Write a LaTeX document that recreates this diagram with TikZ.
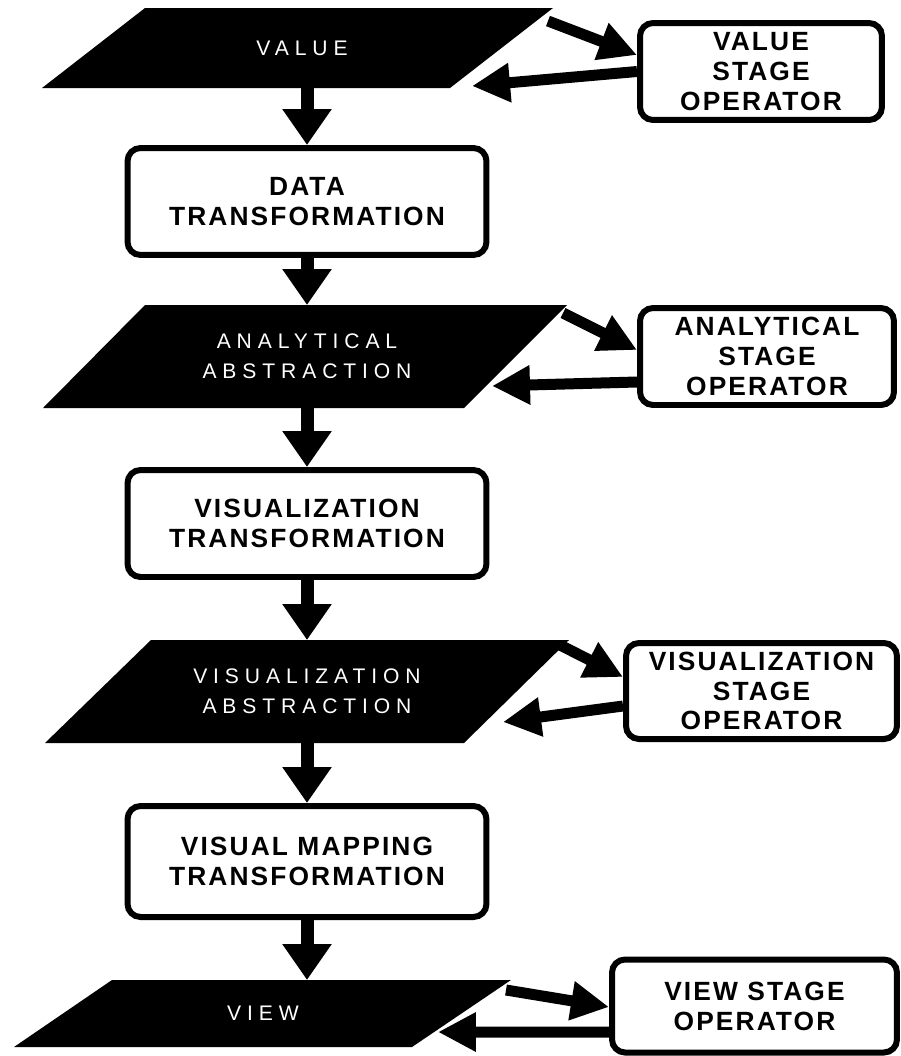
\documentclass[tikz,border=0pt]{standalone}
\usepackage{fontspec}
\usetikzlibrary{arrows.meta}
\setmainfont{Liberation Sans}
\newfontfamily\boxfont{Liberation Sans}[LetterSpace=8]
\newfontfamily\abfont{Liberation Sans}[LetterSpace=28]

\tikzset{
  stagebox/.style={draw, line width=0.12cm, rounded corners=0.26cm, fill=white,
    inner sep=0pt, align=center, font=\boxfont\bfseries\fontsize{15}{17}\selectfont},
  abstext/.style={text=white, inner sep=0pt, outer sep=0pt, align=center,
    font=\abfont\fontsize{12}{17}\selectfont},
  flow/.style={line width=0.26cm, -{Triangle[length=0.72cm,width=0.94cm]}},
  side/.style={line width=0.22cm, -{Triangle[length=0.76cm,width=0.74cm]}},
}

\begin{document}
\begin{tikzpicture}[x=0.02cm, y=-0.02cm]
  % page
  \fill[white] (0,0) rectangle (901,1056);
  \useasboundingbox (0,0) rectangle (901,1056);

  % black stage shapes
  \fill (145,8) -- (553,8) -- (450,88) -- (42,88) -- cycle;
  \fill (145,305) -- (567,305) -- (464,408) -- (43,408) -- cycle;
  \fill (151,640) -- (569,640) -- (464,743) -- (45,743) -- cycle;
  \fill (112,980) -- (511,980) -- (412,1047) -- (14,1047) -- cycle;

  % stage labels
  \node[abstext, minimum height=1.6cm]  (value) at (302,48.5)  {VALUE};
  \node[abstext, minimum height=2.06cm] (ana)   at (307,356.5) {ANALYTICAL\\ABSTRACTION};
  \node[abstext, minimum height=2.06cm] (visa)  at (307,691.5) {VISUALIZATION\\ABSTRACTION};
  \node[abstext, minimum height=1.34cm] (view)  at (263,1013.5) {VIEW};

  % transformations
  \node[stagebox, minimum width=7.18cm, minimum height=2.14cm] (data) at (307,201.5) {DATA\\TRANSFORMATION};
  \node[stagebox, minimum width=7.18cm, minimum height=2.14cm] (vist) at (307,523.5) {VISUALIZATION\\TRANSFORMATION};
  \node[stagebox, minimum width=7.18cm, minimum height=2.22cm] (vism) at (307,861.5) {VISUAL MAPPING\\TRANSFORMATION};

  % stage operators
  \node[stagebox, minimum width=4.84cm, minimum height=1.94cm] (valop)  at (761,71.5)  {VALUE\\STAGE\\OPERATOR};
  \node[stagebox, minimum width=5.08cm, minimum height=1.94cm] (anaop)  at (767,356.5) {ANALYTICAL\\STAGE\\OPERATOR};
  \node[stagebox, minimum width=5.42cm, minimum height=1.92cm] (visop)  at (761.5,691) {VISUALIZATION\\STAGE\\OPERATOR};
  \node[stagebox, minimum width=5.70cm, minimum height=1.86cm] (viewop) at (754.5,1006) {VIEW STAGE\\OPERATOR};

  % pipeline
  \draw[flow] (data.north |- value.south) -- (data.north);
  \draw[flow] (data.south) -- (data.south |- ana.north);
  \draw[flow] (vist.north |- ana.south) -- (vist.north);
  \draw[flow] (vist.south) -- (vist.south |- visa.north);
  \draw[flow] (vism.north |- visa.south) -- (vism.north);
  \draw[flow] (vism.south) -- (vism.south |- view.north);

  % operator loops
  \coordinate (value-out) at (548,21);
  \coordinate (value-in)  at (472,86);
  \coordinate (ana-out)   at (563,313);
  \coordinate (ana-in)    at (492,386);
  \coordinate (visa-out)  at (560,645);
  \coordinate (visa-in)   at (503,722);
  \coordinate (view-out)  at (506,990);
  \coordinate (view-in)   at (438,1032);

  \draw[side] (value-out) -- ([yshift=0.33cm]valop.west);
  \draw[side] (valop.west) -- (value-in);
  \draw[side] (ana-out) -- ([yshift=0.13cm]anaop.west);
  \draw[side] ([yshift=-0.51cm]anaop.west) -- (ana-in);
  \draw[side] (visa-out) -- ([yshift=0.28cm]visop.west);
  \draw[side] ([yshift=-0.3cm]visop.west) -- (visa-in);
  \draw[side] (view-out) -- ([yshift=-0.02cm]viewop.west);
  \draw[side] ([yshift=-0.52cm]viewop.west) -- (view-in);
\end{tikzpicture}
\end{document}
